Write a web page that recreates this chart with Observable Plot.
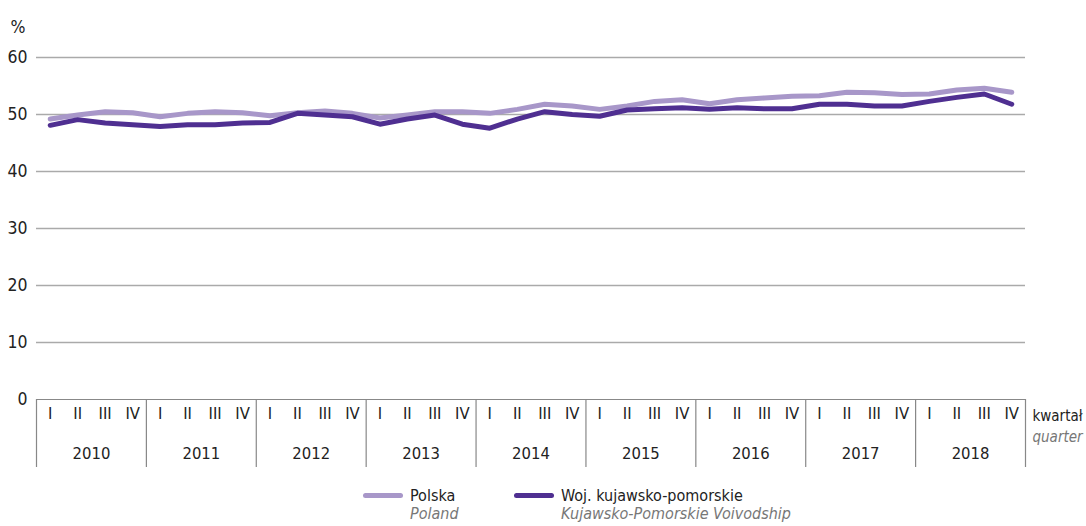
<!DOCTYPE html>
<html>
<head>
<meta charset="utf-8">
<script src="https://cdn.jsdelivr.net/npm/d3@7"></script>
<script src="https://cdn.jsdelivr.net/npm/@observablehq/plot@0.6"></script>
<style>
  html, body { margin: 0; padding: 0; background: #fff; }
  body { font-family: "DejaVu Sans Condensed", "Liberation Sans Narrow", sans-serif; color: #222; }
  #wrap { width: 1086px; position: relative; }
  #legend { position: relative; width: 1086px; height: 52px; font-size: 16px; line-height: 18px; }
  .sw { position: absolute; width: 40px; height: 5px; border-radius: 3px; }
  .lt { position: absolute; white-space: nowrap; }
  .lt i { color: #777; }
</style>
</head>
<body>
<div id="wrap">
  <div id="chart"></div>
  <div id="legend">
    <div class="sw" style="left:363px; top:19px; background:#a897c9;"></div>
    <div class="lt" style="left:410px; top:13px;">Polska<br><i>Poland</i></div>
    <div class="sw" style="left:514px; top:19px; background:#4f2f91;"></div>
    <div class="lt" style="left:561px; top:13px;">Woj. kujawsko-pomorskie<br><i>Kujawsko-Pomorskie Voivodship</i></div>
  </div>
</div>
<script>
const years = ["2010","2011","2012","2013","2014","2015","2016","2017","2018"];
const quarterLabels = ["I","II","III","IV"];
const yTicks = [0,10,20,30,40,50,60];

const polska = [
  49.2, 49.9, 50.5, 50.3,
  49.6, 50.2, 50.5, 50.3,
  49.8, 50.3, 50.6, 50.2,
  49.4, 49.9, 50.5, 50.5,
  50.2, 50.9, 51.8, 51.5,
  50.9, 51.5, 52.3, 52.6,
  51.9, 52.6, 52.9, 53.2,
  53.3, 53.9, 53.8, 53.5,
  53.6, 54.3, 54.6, 53.9
];
const kujawsko = [
  48.1, 49.1, 48.5, 48.2,
  47.9, 48.2, 48.2, 48.5,
  48.6, 50.2, 49.9, 49.6,
  48.3, 49.2, 49.9, 48.3,
  47.6, 49.2, 50.5, 50.0,
  49.7, 50.8, 51.0, 51.2,
  50.9, 51.2, 51.0, 51.0,
  51.8, 51.8, 51.5, 51.5,
  52.3, 53.0, 53.6, 51.8
];

const data = polska.map((v, i) => ({ i: i + 0.5, polska: v, kujawsko: kujawsko[i] }));
const quarterPos = polska.map((_, i) => i + 0.5);
const yearPos = years.map((_, k) => k * 4 + 2);
const sepPos = d3.range(0, years.length * 4 + 1, 4);

const light = "#a897c9";
const dark = "#4f2f91";

const chart = Plot.plot({
  width: 1086,
  height: 474,
  marginLeft: 36,
  marginRight: 61,
  marginTop: 57,
  marginBottom: 75,
  x: { domain: [0, years.length * 4], axis: null },
  y: { domain: [0, 60], axis: null },
  style: { fontFamily: '"DejaVu Sans Condensed", "Liberation Sans Narrow", sans-serif', fontSize: "16px", color: "#222", background: "#fff" },
  marks: [
    Plot.gridY(yTicks.filter(d => d > 0), { stroke: "#aaa", strokeOpacity: 1, strokeWidth: 1.3 }),
    Plot.axisY(yTicks, { tickSize: 0, tickPadding: 9, label: null, fontSize: 17.5 }),
    Plot.ruleY([0], { stroke: "#888", strokeWidth: 1.2 }),
    Plot.axisX(sepPos, { tickSize: 68, tickFormat: () => "", stroke: "#888", strokeWidth: 1.2, label: null }),
    Plot.axisX(quarterPos, { tickSize: 0, tickPadding: 8, tickFormat: d => quarterLabels[Math.floor(d) % 4], label: null, fontSize: 16.5 }),
    Plot.axisX(yearPos, { tickSize: 0, tickPadding: 48, tickFormat: d => years[(d - 2) / 4], label: null, fontSize: 16.5 }),
    Plot.line(data, { x: "i", y: "polska", stroke: light, strokeWidth: 5 }),
    Plot.line(data, { x: "i", y: "kujawsko", stroke: dark, strokeWidth: 5 }),
    Plot.text(["kwartał"], { frameAnchor: "bottom-right", dx: 7, dy: 21, textAnchor: "start", fontSize: 15 }),
    Plot.text(["quarter"], { frameAnchor: "bottom-right", dx: 7, dy: 42, textAnchor: "start", fontStyle: "italic", fill: "#777", fontSize: 15 }),
    Plot.text(["%"], { frameAnchor: "top-left", dx: -26, dy: -37, textAnchor: "start", fontSize: 17.5 })
  ]
});
document.getElementById("chart").appendChild(chart);
</script>
</body>
</html>
